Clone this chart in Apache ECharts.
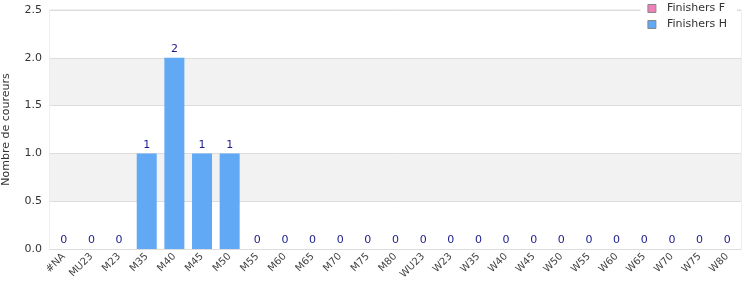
<!DOCTYPE html>
<html><head><meta charset="utf-8">
<script src="https://cdn.jsdelivr.net/npm/echarts@6/dist/echarts.min.js"></script>
<style>html,body{margin:0;padding:0;background:#fff}#c{width:750px;height:300px}</style>
</head><body><div id="c"></div>
<script>
const categories = ['#NA','MU23','M23','M35','M40','M45','M50','M55','M60','M65','M70','M75','M80','WU23','W23','W35','W40','W45','W50','W55','W60','W65','W70','W75','W80'];
const finishersF = [0,0,0,0,0,0,0,0,0,0,0,0,0,0,0,0,0,0,0,0,0,0,0,0,0];
const finishersH = [0,0,0,1,2,1,1,0,0,0,0,0,0,0,0,0,0,0,0,0,0,0,0,0,0];
const yTicks = [0, 0.5, 1.0, 1.5, 2.0, 2.5];

const chart = echarts.init(document.getElementById('c'), null, {renderer:'canvas'});
chart.setOption({
  animation: false,
  textStyle: {fontFamily: 'DejaVu Sans'},
  grid: {left: 50, right: 9, top: 10, bottom: 51, containLabel: false, outerBoundsMode: 'none',
         show: true, borderColor: '#dddddd', borderWidth: 1, backgroundColor: 'transparent'},
  legend: {
    orient: 'vertical', right: 13, top: 2, padding: [1, 10, 3, 7],
    backgroundColor: '#fff', itemGap: 5, itemWidth: 8, itemHeight: 8,
    itemStyle: {borderColor: '#888', borderWidth: 1},
    textStyle: {fontSize: 11, color: '#333', fontFamily: 'DejaVu Sans', padding: [0, 0, 0, 6]},
    data: [{name:'Finishers F', icon:'rect'}, {name:'Finishers H', icon:'rect'}]
  },
  xAxis: {
    type: 'category', data: categories,
    axisLine: {show: true, lineStyle: {color: '#dddddd'}},
    axisTick: {show: false},
    axisLabel: {interval: 0, rotate: 45, fontSize: 10, color: '#444', margin: 6}
  },
  yAxis: {
    type: 'value', min: 0, max: 2.5, interval: 0.5,
    name: 'Nombre de coureurs', nameLocation: 'middle', nameGap: 38, nameRotate: 90,
    nameTextStyle: {fontSize: 11, color: '#333'},
    axisLine: {show: false}, axisTick: {show: false},
    axisLabel: {fontSize: 11, color: '#333', margin: 8, formatter: v => yTicks.includes(v) ? v.toFixed(1) : ''},
    splitLine: {show: true, lineStyle: {color: '#dddddd'}},
    splitArea: {show: true, areaStyle: {color: ['#ffffff', '#f2f2f2']}}
  },
  series: [
    {name: 'Finishers F', type: 'bar', stack: 's', data: finishersF, barWidth: 20,
     itemStyle: {color: '#ee82b8'}},
    {name: 'Finishers H', type: 'bar', stack: 's', data: finishersH, barWidth: 20,
     itemStyle: {color: '#62a9f5'},
     label: {show: true, position: 'top', color: '#1c1c8f', fontSize: 11, distance: 3}}
  ]
});
</script></body></html>
